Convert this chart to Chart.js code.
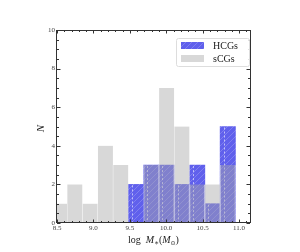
<!DOCTYPE html>
<html>
<head>
<meta charset="utf-8">
<script src="https://cdn.jsdelivr.net/npm/chart.js@4.4.0/dist/chart.umd.min.js"></script>
<style>
  html, body { margin: 0; padding: 0; background: #fff; }
  #wrap { width: 300px; height: 252px; }
</style>
</head>
<body>
<div id="wrap"><canvas id="histChart" width="300" height="252"></canvas></div>
<script>
// histogram bins (log stellar mass), counts per bin
const binCenters = [8.535, 8.745, 8.955, 9.165, 9.375, 9.585, 9.795, 10.005, 10.215, 10.425, 10.635, 10.845];
const hcgCounts = [0, 0, 0, 0, 0, 2, 3, 3, 2, 3, 1, 5];
const scgCounts = [1, 2, 1, 4, 3, 0, 3, 7, 5, 2, 2, 3];
const xTicks = [8.5, 9.0, 9.5, 10.0, 10.5, 11.0];
const yTicks = [0, 2, 4, 6, 8, 10];

const serif = '"Liberation Serif", "DejaVu Serif", serif';
const blue = 'rgb(96, 96, 236)';
const gray = 'rgba(168, 168, 168, 0.45)';

// blue fill with light diagonal hatch
function hatchPattern() {
    const c = document.createElement('canvas');
    c.width = 6; c.height = 6;
    const g = c.getContext('2d');
    g.fillStyle = blue;
    g.fillRect(0, 0, 6, 6);
    g.strokeStyle = 'rgba(255,255,255,0.25)';
    g.lineWidth = 0.8;
    g.beginPath();
    g.moveTo(-1, 7); g.lineTo(7, -1);
    g.moveTo(-1, 1); g.lineTo(1, -1);
    g.moveTo(5, 7); g.lineTo(7, 5);
    g.stroke();
    return g.createPattern(c, 'repeat');
}

const toPoints = counts => binCenters.map((x, i) => ({ x: x, y: counts[i] }));

// frame, inward ticks, dashed marks on HCG bars, legend, axis titles
const decor = {
    id: 'decor',
    afterDatasetDraw(chart, args) {
        if (args.index !== 0) return;
        const ctx = chart.ctx;
        const area = chart.chartArea;
        ctx.save();
        ctx.beginPath();
        ctx.rect(area.left, area.top, area.right - area.left, area.bottom - area.top);
        ctx.clip();
        ctx.strokeStyle = 'rgba(255,255,255,0.6)';
        ctx.lineWidth = 1;
        ctx.setLineDash([2, 2]);
        args.meta.data.forEach((bar, i) => {
            if (!hcgCounts[i]) return;
            const x = Math.round(bar.x - bar.width / 2 + 3.5) + 0.5;
            ctx.beginPath();
            ctx.moveTo(x, bar.y + 1);
            ctx.lineTo(x, bar.base);
            ctx.stroke();
        });
        ctx.restore();
    },
    afterDraw(chart) {
        const ctx = chart.ctx;
        const a = chart.chartArea;
        const xs = chart.scales.x, ys = chart.scales.y;
        ctx.save();
        ctx.strokeStyle = '#333';
        ctx.lineWidth = 1;
        ctx.strokeRect(Math.round(a.left) - 0.5, Math.round(a.top) + 0.5,
            Math.round(a.right - a.left) + 1, Math.round(a.bottom - a.top) - 1);
        ctx.beginPath();
        for (let v = 8.5; v <= 11.15; v += 0.1) {
            const px = Math.round(xs.getPixelForValue(v)) + 0.5;
            const major = Math.abs(v * 2 - Math.round(v * 2)) < 1e-6;
            const len = major ? 3.5 : 2;
            ctx.moveTo(px, a.bottom); ctx.lineTo(px, a.bottom - len);
            ctx.moveTo(px, a.top); ctx.lineTo(px, a.top + len);
        }
        for (let v = 0; v <= 10; v += 0.5) {
            const py = Math.round(ys.getPixelForValue(v)) + 0.5;
            const len = (v % 2 === 0) ? 3.5 : 2;
            ctx.moveTo(a.left, py); ctx.lineTo(a.left + len, py);
            ctx.moveTo(a.right, py); ctx.lineTo(a.right - len, py);
        }
        ctx.stroke();

        // legend
        const lx = 176, ly = 38, lw = 73, lh = 28;
        ctx.fillStyle = 'rgba(255,255,255,0.85)';
        ctx.strokeStyle = '#ddd';
        ctx.beginPath();
        ctx.roundRect(lx + 0.5, ly + 0.5, lw, lh, 2);
        ctx.fill();
        ctx.stroke();
        ctx.fillStyle = hatchPattern();
        ctx.fillRect(lx + 5, ly + 4, 23, 7);
        ctx.fillStyle = gray;
        ctx.fillRect(lx + 5, ly + 17, 23, 7);
        ctx.fillStyle = '#222';
        ctx.font = '10px ' + serif;
        ctx.textBaseline = 'middle';
        ctx.textAlign = 'left';
        ctx.fillText('HCGs', lx + 37, ly + 8);
        ctx.fillText('sCGs', lx + 37, ly + 21);

        // y axis title
        ctx.font = 'italic 11px ' + serif;
        ctx.textAlign = 'center';
        ctx.save();
        ctx.translate(41, (a.top + a.bottom) / 2 + 2);
        ctx.rotate(-Math.PI / 2);
        ctx.fillText('N', 0, 0);
        ctx.restore();

        // x axis title: log M*(M_sun)
        const base = 243;
        const parts = [
            { t: 'log ', f: '10px ' + serif, dy: 0 },
            { t: ' ', f: '10px ' + serif, dy: 0 },
            { t: 'M', f: 'italic 10px ' + serif, dy: 0 },
            { t: '∗', f: '7px ' + serif, dy: 2 },
            { t: '(', f: '10px ' + serif, dy: 0 },
            { t: 'M', f: 'italic 10px ' + serif, dy: 0 },
            { t: '⊙', f: '6px "DejaVu Sans", sans-serif', dy: 2 },
            { t: ')', f: '10px ' + serif, dy: 0 }
        ];
        let total = 0;
        parts.forEach(p => { ctx.font = p.f; p.w = ctx.measureText(p.t).width; total += p.w; });
        let cx = (a.left + a.right) / 2 - total / 2;
        ctx.textAlign = 'left';
        ctx.textBaseline = 'alphabetic';
        parts.forEach(p => {
            ctx.font = p.f;
            ctx.fillText(p.t, cx, base + p.dy);
            cx += p.w;
        });
        ctx.restore();
    }
};

new Chart(document.getElementById('histChart'), {
    type: 'bar',
    data: {
        datasets: [{
            label: 'HCGs',
            data: toPoints(hcgCounts),
            backgroundColor: hatchPattern(),
            borderWidth: 0,
            order: 1
        }, {
            label: 'sCGs',
            data: toPoints(scgCounts),
            backgroundColor: gray,
            borderColor: 'rgba(255,255,255,0.5)',
            borderWidth: { left: 0.5, right: 0.5, top: 0, bottom: 0 },
            order: 0
        }]
    },
    plugins: [decor],
    options: {
        responsive: false,
        animation: false,
        events: [],
        layout: { padding: { top: 30, right: 50, left: 0, bottom: 0 } },
        datasets: {
            bar: { barPercentage: 1, categoryPercentage: 1, grouped: false }
        },
        plugins: {
            legend: { display: false },
            tooltip: { enabled: false }
        },
        scales: {
            x: {
                type: 'linear',
                min: 8.5,
                max: 11.15,
                offset: false,
                grid: { display: false, drawTicks: false, tickLength: 0 },
                border: { display: false },
                afterBuildTicks: s => { s.ticks = xTicks.map(v => ({ value: v })); },
                afterFit: s => { s.height = 29; },
                ticks: {
                    padding: 1,
                    maxRotation: 0,
                    color: '#444',
                    font: { family: serif, size: 7 },
                    callback: v => v.toFixed(1)
                }
            },
            y: {
                min: 0,
                max: 10,
                grid: { display: false, drawTicks: false, tickLength: 0 },
                border: { display: false },
                afterBuildTicks: s => { s.ticks = yTicks.map(v => ({ value: v })); },
                afterFit: s => { s.width = 57; },
                ticks: {
                    padding: 2,
                    color: '#444',
                    font: { family: serif, size: 7 }
                }
            }
        }
    }
});
</script>
</body>
</html>
